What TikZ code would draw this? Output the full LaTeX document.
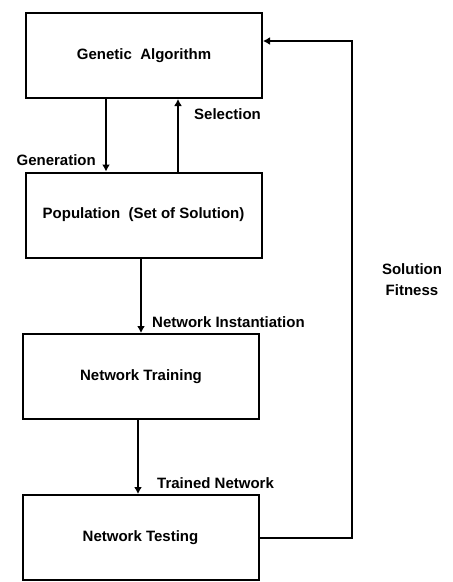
\documentclass[tikz,border=0pt]{standalone}
\usepackage{fontspec}
\setmainfont{Liberation Sans}
\usetikzlibrary{arrows.meta}
\tikzset{block/.style={draw, line width=2pt, minimum width=236pt,
                       minimum height=85pt, inner sep=0pt,
                       font=\fontsize{15}{18}\bfseries},
         flow/.style={-{Latex[length=7pt,width=8pt]}, line width=2pt},
         lbl/.style={font=\fontsize{15}{21}\bfseries, inner sep=0pt}}

\begin{document}
\begin{tikzpicture}[x=1pt, y=-1pt]
      \useasboundingbox (0,0) rectangle (453,582);
      \node[block] (ga) at (144, 55.5) {Genetic~~Algorithm};
      \node[block] (pop) at (143.5, 215) {Population~~(Set of Solution)};
      \node[block] (train) at (141, 376.5) {Network Training};
      \node[block] (test) at (140.5, 537.5) {Network Testing};

      \coordinate (fb) at (352, 41);

      \draw[flow] (ga.south -| 106,0) -- (pop.north -| 106,0);
      \draw[flow] (pop.north -| 178,0) -- (ga.south -| 178,0);
      \draw[flow] (pop.south -| 141,0) -- (train.north -| 141,0);
      \draw[flow] (train.south -| 138,0) -- (test.north -| 138,0);
      \draw[flow] (test.east) -| (fb) -- (ga.east |- fb);

      \node[lbl, anchor=east] (gen) at (96, 160) {Generation};
      \node[lbl, anchor=west] (sel) at (194, 114) {Selection};
      \node[lbl, anchor=west] (inst) at (152, 322) {Network Instantiation};
      \node[lbl, anchor=west] (tn) at (157, 483) {Trained Network};
      \node[lbl, align=center] (fit) at (412, 280) {Solution\\Fitness};
    \end{tikzpicture}
\end{document}
